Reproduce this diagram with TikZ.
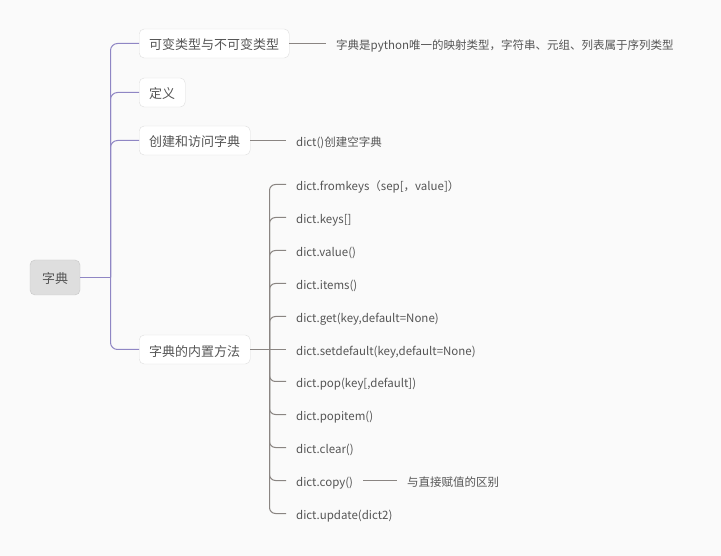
\documentclass[tikz,border=0pt]{standalone}
\usepackage{fontspec}
\setmainfont{Noto Sans CJK SC}
\definecolor{plinkc}{HTML}{8F86C4}
\definecolor{glinkc}{HTML}{8A8582}
\definecolor{txtc}{HTML}{555555}
\begin{document}
\begin{tikzpicture}[x=1pt,y=-1pt,
  every node/.style={text=txtc, font=\fontsize{11.5}{13}\selectfont},
  rootbox/.style={draw=black!22, fill=black!13, rounded corners=5pt, minimum width=50pt, minimum height=35pt, inner sep=0pt, text height=13.5pt, text depth=0.5pt, font=\fontsize{13}{15}\selectfont},
  topicbox/.style={draw=black!13, fill=white, rounded corners=5pt, minimum height=29pt, inner xsep=10pt, inner ysep=0pt, text height=13.5pt, text depth=0.5pt, anchor=west, font=\fontsize{13}{15}\selectfont},
  leaf/.style={anchor=west, inner xsep=10pt, inner ysep=2pt, text height=12.5pt, text depth=0.5pt},
  plink/.style={draw=plinkc, line width=1pt, rounded corners=7pt},
  glink/.style={draw=glinkc, line width=1pt, rounded corners=6pt}]
\fill[black!2] (0,0) rectangle (721,556);
\useasboundingbox (0,0) rectangle (721,556);

\node[rootbox] (root) at (55,277.5) {字典};
\coordinate (t) at (110.5,277.5);

\node[topicbox] (n1) at (139,43.5) {可变类型与不可变类型};
\node[topicbox] (n2) at (139,92.5) {定义};
\node[topicbox] (n3) at (139,140.5) {创建和访问字典};
\node[topicbox] (n4) at (139,349.5) {字典的内置方法};

\draw[plink] (root.east) -- (t);
\foreach \n in {n1,n2,n3,n4} \draw[plink] (t) |- (\n.west);

\node[leaf] (d1) at (326,43.5) {字典是python唯一的映射类型，字符串、元组、列表属于序列类型};
\draw[glink] (n1.east) -- (d1.west);
\node[leaf] (d3) at (286,140.5) {dict()创建空字典};
\draw[glink] (n3.east) -- (d3.west);

\node[leaf] (m1) at (286,184.5) {dict.fromkeys（sep[，value]）};
\node[leaf] (m2) at (286,217.5) {dict.keys[]};
\node[leaf] (m3) at (286,250.5) {dict.value()};
\node[leaf] (m4) at (286,283.5) {dict.items()};
\node[leaf] (m5) at (286,316.5) {dict.get(key,default=None)};
\node[leaf] (m6) at (286,349.5) {dict.setdefault(key,default=None)};
\node[leaf] (m7) at (286,381.5) {dict.pop(key[,default])};
\node[leaf] (m8) at (286,414.5) {dict.popitem()};
\node[leaf] (m9) at (286,447.5) {dict.clear()};
\node[leaf] (m10) at (286,480.5) {dict.copy()};
\node[leaf] (m11) at (286,513.5) {dict.update(dict2)};
\coordinate (mt) at (269.5,349.5);

\draw[glink] (n4.east) -- (m6.west);
\foreach \m in {m1,m2,m3,m4,m5,m7,m8,m9,m10,m11} \draw[glink] (mt) |- (\m.west);

\node[leaf] (c1) at (397,480.5) {与直接赋值的区别};
\draw[glink] (m10.east) -- (c1.west);
\end{tikzpicture}
\end{document}
